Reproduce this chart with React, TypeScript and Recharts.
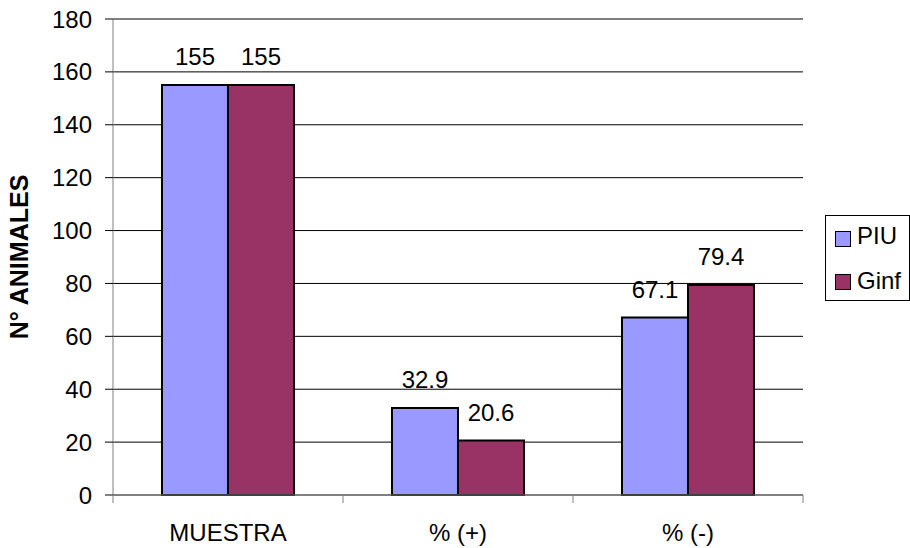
import React from 'react';
import { BarChart, Bar, XAxis, YAxis, CartesianGrid, Legend, LabelList } from 'recharts';

const categories = ['MUESTRA', '% (+)', '% (-)'];
const piuValues = [155, 32.9, 67.1];
const ginfValues = [155, 20.6, 79.4];
const yTicks = [0, 20, 40, 60, 80, 100, 120, 140, 160, 180];
const seriesNames = ['PIU', 'Ginf'];
const seriesColors = ['#9999FF', '#993366'];

const data = categories.map((category, i) => ({
  category,
  PIU: piuValues[i],
  Ginf: ginfValues[i],
}));

const FONT = '"Liberation Sans", Arial, Helvetica, sans-serif';

// Category label centred under each group, with tick marks on the group boundaries
const CategoryTick = (props: any) => {
  const { x, y, payload, index, visibleTicksCount } = props;
  const half = payload && payload.offset ? payload.offset : 115;
  const last = index === (visibleTicksCount ?? categories.length) - 1;
  return (
    <g>
      <line x1={x - half} x2={x - half} y1={y} y2={y + 8} stroke="#808080" strokeWidth={1} />
      {last && <line x1={x + half} x2={x + half} y1={y} y2={y + 8} stroke="#808080" strokeWidth={1} />}
      <text x={x} y={y + 46} textAnchor="middle" fontSize={24} fill="#000" fontFamily={FONT}>
        {payload.value}
      </text>
    </g>
  );
};

// Boxed legend listing the series in drawing order
const LegendBox = () => (
  <svg width={85} height={86} style={{ display: 'block' }}>
    <rect x={0.5} y={0.5} width={84} height={85} fill="#fff" stroke="#000" strokeWidth={1} />
    {seriesNames.map((name, i) => (
      <g key={name}>
        <rect x={10.5} y={16.5 + i * 43} width={15} height={15} fill={seriesColors[i]} stroke="#000" strokeWidth={1} />
        <text x={32} y={29 + i * 45} fontSize={24} fontFamily={FONT} fill="#000">
          {name}
        </text>
      </g>
    ))}
  </svg>
);

export default function App() {
  return (
    <div style={{ position: 'absolute', left: 0, top: 0, width: 910, height: 548, background: '#fff' }}>
      <BarChart
        width={910}
        height={548}
        data={data}
        margin={{ top: 19, right: 107, bottom: 0, left: 0 }}
        barCategoryGap="21.3%"
        barGap={0}
        style={{ fontFamily: FONT }}
      >
        <CartesianGrid vertical={false} stroke="#000" strokeWidth={1} />
        <XAxis
          dataKey="category"
          height={53}
          axisLine={{ stroke: '#808080', strokeWidth: 1 }}
          tickLine={false}
          tickSize={0}
          tickMargin={0}
          interval={0}
          tick={<CategoryTick />}
        />
        <YAxis
          width={113}
          domain={[0, 180]}
          ticks={yTicks}
          interval={0}
          axisLine={{ stroke: '#808080', strokeWidth: 1 }}
          tickLine={{ stroke: '#000', strokeWidth: 1 }}
          tickSize={8}
          tickMargin={13}
          tick={{ fontSize: 24, fill: '#000', fontFamily: FONT }}
          label={{
            value: 'N° ANIMALES',
            angle: -90,
            position: 'insideLeft',
            offset: 19,
            style: { fontSize: 25, fontWeight: 'bold', fill: '#000', fontFamily: FONT, textAnchor: 'middle' },
          }}
        />
        <Legend
          layout="horizontal"
          align="center"
          verticalAlign="middle"
          content={<LegendBox />}
          wrapperStyle={{ left: 825, top: 215, width: 85, height: 86 }}
        />
        {seriesNames.map((name, i) => (
          <Bar key={name} dataKey={name} fill={seriesColors[i]} stroke="#000" strokeWidth={2} isAnimationActive={false}>
            <LabelList dataKey={name} position="top" offset={20} fontSize={24} fill="#000" fontFamily={FONT} />
          </Bar>
        ))}
      </BarChart>
    </div>
  );
}
